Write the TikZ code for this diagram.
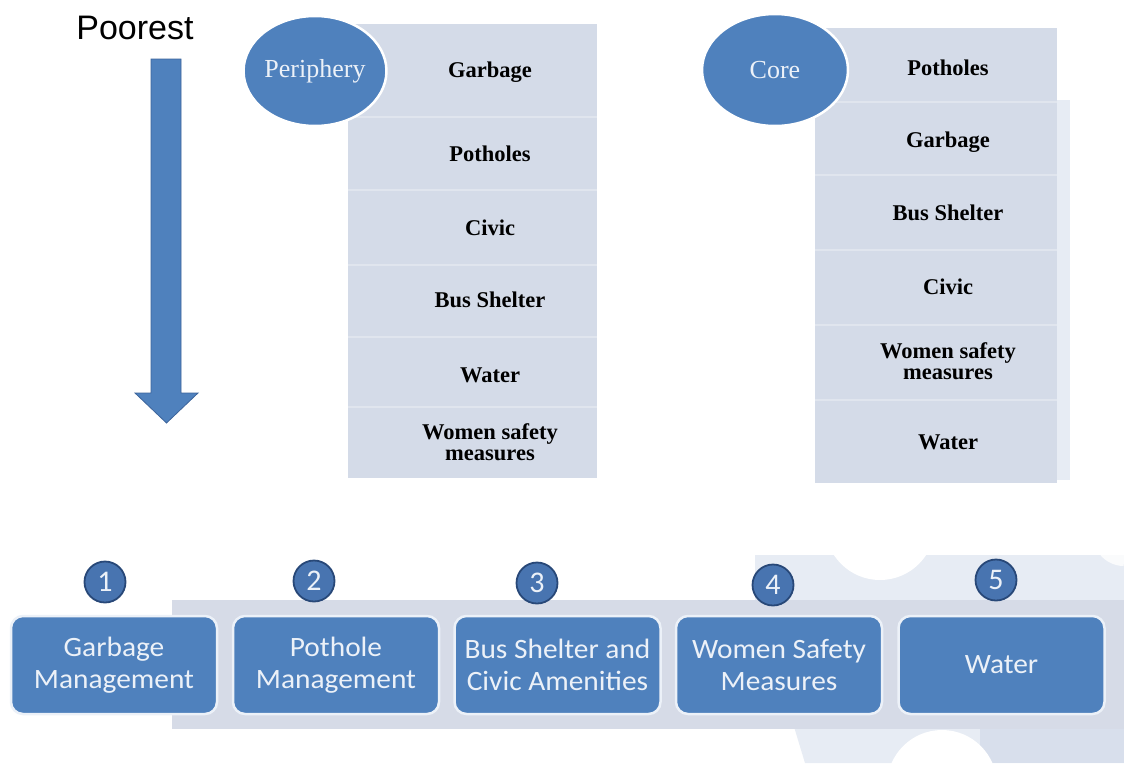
\documentclass[tikz,border=0pt]{standalone}
\usepackage{fontspec}
\setmainfont{Liberation Serif}
\newfontfamily\arialf{Liberation Sans}
\newfontfamily\calibw[FakeStretch=1.05]{Carlito}
\newfontfamily\calibn{Carlito}
\usetikzlibrary{shapes.geometric}
\definecolor{offblue}{RGB}{79,129,189}
\definecolor{arrowedge}{RGB}{60,100,155}
\definecolor{colfill}{RGB}{212,219,232}
\definecolor{sepline}{RGB}{224,229,238}
\definecolor{bandfill}{RGB}{214,219,231}
\definecolor{wmfill}{RGB}{231,236,244}
\definecolor{wmdark}{RGB}{216,223,236}
\definecolor{lighttext}{RGB}{236,241,248}
\definecolor{badgefill}{RGB}{72,116,176}
\definecolor{badgeedge}{RGB}{40,72,120}
\begin{document}
\begin{tikzpicture}[x=1pt,y=-1pt,
  ell/.style={ellipse, fill=offblue, draw=white, line width=2.5pt, inner sep=0pt,
    text=lighttext, font=\fontsize{26}{28}\selectfont},
  coltext/.style={inner sep=0pt, align=center, text=black,
    font=\bfseries\fontsize{22.5}{21}\selectfont},
  sep/.style={draw=sepline, line width=1.2pt},
  stepbox/.style={rectangle, rounded corners=12pt, fill=offblue, draw=lighttext,
    line width=2.5pt, minimum width=206pt, minimum height=98pt, inner sep=0pt,
    align=center, text=lighttext, font=\calibw\fontsize{28}{32}\selectfont},
  badge/.style={circle, fill=badgefill, draw=badgeedge, line width=1.8pt,
    minimum size=41pt, inner sep=0pt, text=lighttext,
    font=\calibn\fontsize{30}{30}\selectfont}
]
\useasboundingbox (0,0) rectangle (1124,763);
\fill[white] (0,0) rectangle (1124,763);

% faint watermark shapes
\fill[wmfill] (755,555) -- (1124,555) -- (1124,763) -- (805,763) -- (795,730) -- (755,600) -- cycle;
\fill[wmdark] (980,728) rectangle (1124,763);
\fill[white] (880,525) circle (55);
\fill[white] (942,785) circle (55);
\draw[white, opacity=0.8, line width=12pt] (1124,560) arc (90:200:25);
\fill[wmfill] (1057,100) rectangle (1070,480);

% arrow and title
\node[anchor=base, inner sep=0pt, font=\arialf\fontsize{34}{36}\selectfont] (poorest) at (135,39) {Poorest};
\filldraw[fill=offblue, draw=arrowedge, line width=0.8pt]
  (151,59) -- (181,59) -- (181,393) -- (198,393) -- (166.5,423) -- (135,393) -- (151,393) -- cycle;

% periphery column
\fill[colfill] (348,24) rectangle (597,478);
\foreach \yy in {117,190,265,337,407} \draw[sep] (348,\yy) -- (597,\yy);
\node[ell, minimum width=142pt, minimum height=110pt] (peri) at (315,71) {Periphery};
\node[coltext] (p1) at (490,72) {Garbage};
\node[coltext] (p2) at (490,154) {Potholes};
\node[coltext] (p3) at (490,228) {Civic};
\node[coltext] (p4) at (490,300) {Bus Shelter};
\node[coltext] (p5) at (490,375) {Water};
\node[coltext] (p6) at (490,442) {Women safety\\measures};

% core column
\fill[colfill] (815,28) rectangle (1057,483);
\foreach \yy in {102,175,250,325,400} \draw[sep] (815,\yy) -- (1057,\yy);
\node[ell, minimum width=146pt, minimum height=112pt] (core) at (775,70) {Core};
\node[coltext] (c1) at (948,68) {Potholes};
\node[coltext] (c2) at (948,142) {Garbage};
\node[coltext] (c3) at (948,213) {Bus Shelter};
\node[coltext] (c4) at (948,287) {Civic};
\node[coltext] (c5) at (948,361) {Women safety\\measures};
\node[coltext] (c6) at (948,442) {Water};

% bottom band and steps
\fill[bandfill] (172,600) rectangle (1124,729);
\node[stepbox] (s1) at (114,665) {Garbage\\Management};
\node[stepbox] (s2) at (336,665) {Pothole\\Management};
\node[stepbox] (s3) at (557.5,665) {Bus Shelter and\\Civic Amenities};
\node[stepbox] (s4) at (779,665) {Women Safety\\Measures};
\node[stepbox] (s5) at (1001.5,665) {Water};

\node[badge] (b1) at (105,582) {1};
\node[badge] (b2) at (314,581) {2};
\node[badge] (b3) at (537,583) {3};
\node[badge] (b4) at (773,585) {4};
\node[badge] (b5) at (996,580) {5};
\end{tikzpicture}
\end{document}
